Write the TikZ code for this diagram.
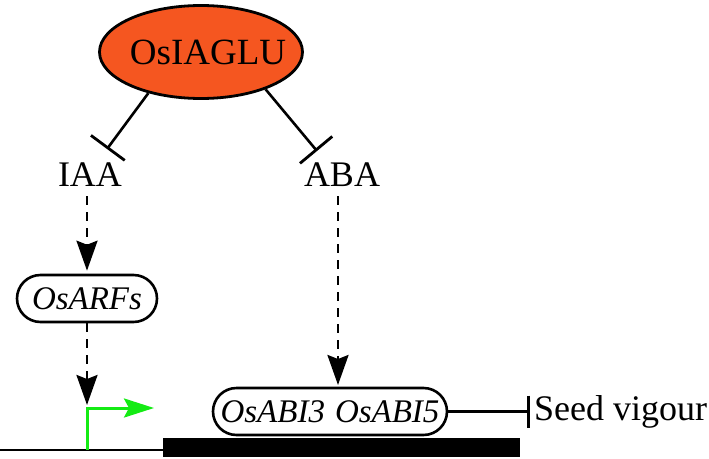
\documentclass[tikz,border=0pt]{standalone}
\usepackage{fontspec}
\setmainfont{Liberation Serif}
\usetikzlibrary{arrows.meta,shapes.geometric,shapes.misc}
\definecolor{osorange}{RGB}{245,86,32}
\definecolor{tssgreen}{RGB}{20,235,20}
\tikzset{
  big/.style={font=\fontsize{36}{40}\selectfont, inner sep=0pt},
  gene/.style={rounded rectangle, draw, line width=2.6pt, font=\fontsize{33}{38}\selectfont\itshape, inner sep=0pt},
  inhib/.style={line width=2.6pt, -{Bar[width=42pt,line width=2.8pt]}},
  act/.style={line width=2.6pt, dash pattern=on 9pt off 7pt, -{Stealth[length=30pt,width=21pt,inset=4pt]}, shorten >=3pt},
}
\begin{document}
\begin{tikzpicture}[x=1pt,y=-1pt]
\useasboundingbox (0,0) rectangle (709,458);
% main ellipse
\node[ellipse, draw, line width=2.8pt, fill=osorange, minimum width=203pt, minimum height=93pt, inner sep=0pt,
  font=\fontsize{37}{40}\selectfont] (osi) at (201,52) {\makebox[0pt]{\hspace*{14pt}OsIAGLU}};
% hormones
\node[big, anchor=base] (iaa) at (90,186) {IAA};
\node[big, anchor=base] (aba) at (342,186) {ABA};
\coordinate (iaaT) at (107,149);
\coordinate (abaT) at (317,151);
\draw[inhib] (osi.218) -- (iaaT);
\draw[inhib] (osi.330) -- (abaT);
% genes
\node[gene, minimum width=140pt, minimum height=47pt] (arfs) at (87,298.5) {OsARFs};
\node[gene, minimum width=234pt, minimum height=47pt] (abi) at (330,411.5) {OsABI3\hspace{10pt}OsABI5};
% dashed activation arrows
\coordinate (iaaB) at (87,196);
\coordinate (abaB) at (338,196);
\coordinate (abiT) at (338,388);
\coordinate (tss) at (87,408);
\draw[act] (iaaB) -- (arfs.north);
\draw[act] (arfs.south) -- (tss);
\draw[act] (abaB) -- (abiT);
% DNA
\coordinate (dnaL) at (0,450);
\coordinate (dnaR) at (164,450);
\draw[line width=2.2pt] (dnaL) -- (dnaR);
\fill (163,438) rectangle (520,457);
% promoter arrow
\coordinate (tssB) at (87,450);
\coordinate (tssE) at (154,408);
\draw[tssgreen, line width=3pt, -{Stealth[length=30pt,width=19pt,inset=5pt]}] (tssB) |- (tssE);
% seed vigour
\node[big, anchor=base west] (seed) at (534,420) {Seed vigour};
\coordinate (seedT) at (530,411.5);
\draw[line width=2.4pt, -{Bar[width=32pt,line width=2.6pt]}] (abi.east) -- (seedT);
\end{tikzpicture}
\end{document}
